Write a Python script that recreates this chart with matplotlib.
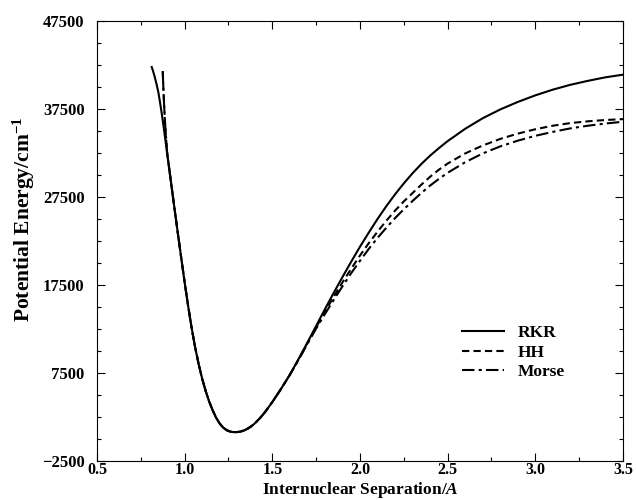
import numpy as np
import matplotlib
matplotlib.use("Agg")
import matplotlib.pyplot as plt
from matplotlib.ticker import MultipleLocator

# values: r in Angstrom, energy in cm^-1
# top of the repulsive wall, where the curves still differ
rkr_top_r = [0.812, 0.82, 0.83, 0.84, 0.85, 0.86, 0.87, 0.88, 0.89]
rkr_top_e = [42270, 41800, 41100, 40300, 39400, 38200, 36900, 35500, 34000]
hh_top_r = [0.875, 0.878, 0.882, 0.887, 0.893]
hh_top_e = [41800, 40200, 38300, 36300, 34500]

# common part: the three curves lie on top of each other here
well_r = [0.9, 0.92, 0.94, 0.96, 0.98, 1.0, 1.02, 1.04, 1.06, 1.08, 1.1, 1.12,
          1.14, 1.16, 1.18, 1.2, 1.22, 1.24, 1.26, 1.28, 1.3, 1.32, 1.34, 1.36,
          1.38, 1.4, 1.43, 1.46, 1.5, 1.55, 1.6]
well_e = [32500, 29500, 26500, 23550, 20650, 17800, 15100, 12600, 10400, 8500,
          6850, 5450, 4250, 3250, 2400, 1750, 1290, 1000, 840, 780, 790, 850,
          980, 1180, 1440, 1770, 2380, 3100, 4200, 5700, 7300]

# outer branch
out_r = [1.65, 1.7, 1.75, 1.8, 1.85, 1.9, 1.95, 2.0, 2.05, 2.1, 2.15, 2.2, 2.25,
         2.3, 2.35, 2.4, 2.45, 2.5, 2.6, 2.7, 2.8, 2.9, 3.0, 3.1, 3.2, 3.3, 3.4, 3.5]
rkr_out_e = [9100, 10950, 12850, 14750, 16600, 18400, 20150, 21850, 23450, 25000,
             26450, 27800, 29050, 30200, 31250, 32200, 33050, 33850, 35250, 36450,
             37450, 38300, 39050, 39700, 40250, 40700, 41100, 41400]
hh_out_e = [9050, 10900, 12700, 14450, 16150, 17800, 19350, 20850, 22250, 23550,
            24800, 25950, 27000, 27950, 28900, 29800, 30600, 31300, 32450, 33350,
            34100, 34700, 35200, 35600, 35900, 36100, 36250, 36350]
morse_out_e = [9000, 10800, 12550, 14200, 15800, 17350, 18850, 20250, 21600, 22850,
               24000, 25100, 26100, 27050, 27950, 28800, 29550, 30250, 31450, 32450,
               33250, 33900, 34450, 34900, 35300, 35600, 35850, 36050]

rkr_r = rkr_top_r + well_r + out_r
rkr_e = rkr_top_e + well_e + rkr_out_e
hh_r = hh_top_r + well_r + out_r
hh_e = hh_top_e + well_e + hh_out_e
morse_r = hh_top_r + well_r + out_r
morse_e = hh_top_e + well_e + morse_out_e

plt.rcParams['font.family'] = 'Liberation Serif'
plt.rcParams['font.weight'] = 'bold'
plt.rcParams['mathtext.fontset'] = 'custom'
plt.rcParams['mathtext.rm'] = 'Liberation Serif:bold'
plt.rcParams['mathtext.bf'] = 'Liberation Serif:bold'
plt.rcParams['mathtext.it'] = 'Liberation Serif:italic:bold'

fig = plt.figure(figsize=(6.36, 5.0), dpi=100)
ax = fig.add_axes([0.1525, 0.078, 0.827, 0.880])

ax.plot(rkr_r, rkr_e, color='black', lw=1.5, label='RKR')
ax.plot(hh_r, hh_e, color='black', lw=1.5, dashes=(3.5, 2), label='HH')
ax.plot(morse_r, morse_e, color='black', lw=1.5, dashes=(6, 2, 1.5, 2), label='Morse')

ax.set_xlim(0.5, 3.5)
ax.set_ylim(-2500, 47500)
ax.set_xticks(np.arange(0.5, 3.51, 0.5))
ax.set_yticks(np.arange(-2500, 47501, 10000))
ax.xaxis.set_minor_locator(MultipleLocator(0.25))
ax.yaxis.set_minor_locator(MultipleLocator(2500))
ax.tick_params(which='both', direction='in', top=True, right=True, labelsize=12)
ax.tick_params(which='major', length=6, width=0.8)
ax.tick_params(which='minor', length=3, width=0.8)
ax.tick_params(axis='y', pad=9)
ax.tick_params(axis='x', pad=1, labelsize=11.5)
ax.set_yticklabels(['\u22122500', '7500', '17500', '27500', '37500', '47500'])
ax.set_xticklabels(['0.5', '1.0', '1.5', '2.0', '2.5', '3.0', '3.5'])

ax.set_xlabel(r'Internuclear Separation/$\it{A}$', fontsize=12.5, fontweight='bold')
ax.xaxis.set_label_coords(0.5, -0.075, transform=ax.transAxes)
ax.xaxis.label.set_va('baseline')
ax.set_ylabel(r'Potential Energy/cm$^{-1}$', fontsize=15.5, fontweight='bold', labelpad=4)
ax.yaxis.set_label_coords(-0.115, 0.55)

ax.legend(loc='upper left', bbox_to_anchor=(0.665, 0.345), frameon=False, fontsize=12.5,
          handlelength=2.4, handletextpad=0.8, labelspacing=0.2)

fig.savefig('out.png', dpi=100)
